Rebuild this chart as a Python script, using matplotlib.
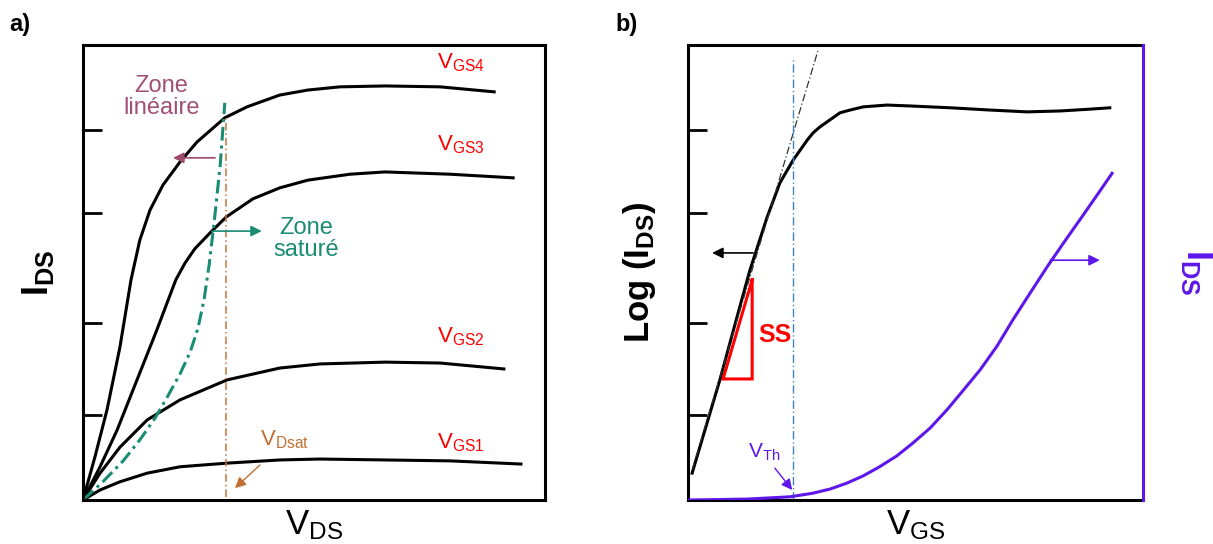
import matplotlib
matplotlib.use('Agg')
import matplotlib.pyplot as plt

plt.rcParams['font.family'] = ['Liberation Sans', 'DejaVu Sans']
plt.rcParams['mathtext.fontset'] = 'custom'
plt.rcParams['mathtext.rm'] = 'Liberation Sans'
plt.rcParams['mathtext.bf'] = 'Liberation Sans:bold'

# ---- panel a) : I_DS vs V_DS (normalised 0-100 units)
vgs4_x = [0, 2.6, 5.2, 8.0, 10.4, 12.3, 14.5, 17.3, 21.0, 24.7, 30.7, 35.5, 42.6, 48.7, 55.6, 65.4, 77.3, 89.0]
vgs4_y = [0, 9.5, 19.8, 33.6, 48.4, 57.1, 63.7, 69.2, 74.3, 78.7, 84.0, 86.4, 89.0, 90.1, 90.8, 91.0, 90.8, 89.7]
vgs3_x = [0, 3.7, 7.4, 11.7, 16.0, 20.1, 22.1, 24.2, 27.5, 31.0, 36.8, 42.6, 48.7, 57.8, 65.4, 79.4, 93.1]
vgs3_y = [0, 7.3, 15.4, 26.4, 37.4, 48.4, 52.1, 55.2, 58.7, 62.2, 66.2, 68.6, 70.3, 71.6, 72.1, 71.6, 70.8]
vgs2_x = [0, 3.7, 8.0, 13.9, 21.0, 31.2, 42.6, 51.3, 65.4, 77.3, 91.1]
vgs2_y = [0, 5.9, 11.6, 17.6, 22.0, 26.4, 29.0, 29.9, 30.3, 30.1, 28.8]
vgs1_x = [0, 3.7, 8.0, 13.9, 21.0, 31.2, 42.6, 51.3, 65.4, 79.4, 94.8]
vgs1_y = [0, 2.2, 4.0, 5.9, 7.3, 8.1, 8.8, 9.0, 8.8, 8.6, 7.9]
sat_x = [0, 4.3, 8.7, 12.3, 15.6, 18.4, 21.0, 23.2, 24.9, 26.2, 27.3, 28.4, 29.7, 30.7]
sat_y = [0, 4.0, 8.6, 13.2, 18.0, 22.9, 27.7, 32.5, 37.8, 44.0, 51.6, 61.1, 73.6, 87.3]
vdsat = 31.0
vdsat_top = 84.2
vgs_labels = ['$\\mathregular{V_{GS4}}$', '$\\mathregular{V_{GS3}}$',
              '$\\mathregular{V_{GS2}}$', '$\\mathregular{V_{GS1}}$']
vgs_label_y = [96.0, 78.0, 35.8, 12.7]
ticks_y = [81.3, 63.1, 38.9, 18.7]

# ---- panel b) : log(I_DS) and I_DS vs V_GS
log_x = [0.9, 7.0, 10.3, 13.6, 17.4, 20.2, 23.1, 26.2, 27.5, 29.0, 33.4, 35.6, 38.5, 43.7,
         48.8, 57.6, 66.4, 74.5, 81.8, 88.4, 92.7]
log_y = [5.9, 26.4, 38.5, 50.5, 62.2, 69.7, 74.7, 79.1, 80.7, 82.0, 85.1, 85.7, 86.4, 86.8,
         86.6, 86.2, 85.7, 85.3, 85.5, 85.9, 86.2]
tan_x = [0.9, 28.6]
tan_y = [6.6, 98.9]
lin_x = [0, 7.0, 13.0, 22.4, 27.5, 31.2, 34.9, 38.5, 42.1, 45.9, 49.4, 53.2, 56.9, 60.4,
         64.2, 67.9, 71.4, 75.2, 78.9, 82.4, 86.2, 89.9, 93.2]
lin_y = [0, 0.1, 0.2, 0.7, 1.5, 2.4, 3.7, 5.3, 7.3, 9.7, 12.5, 15.8, 19.8, 24.0,
         28.6, 33.8, 39.6, 45.5, 51.2, 56.3, 61.7, 67.0, 71.8]
vth = 23.1
vth_top = 97.1
ss_x = [14.1, 14.1, 7.7, 14.1]
ss_y = [48.4, 26.6, 26.6, 48.4]

purple = '#5E17EB'
lw = 2.2


def frame(ax):
  ax.set_xlim(0, 100)
  ax.set_ylim(0, 100)
  for s in ax.spines.values():
    s.set_linewidth(2.2)
  ax.set_xticks([])
  ax.set_yticks(ticks_y)
  ax.set_yticklabels([])
  ax.tick_params(axis='y', direction='in', length=14, width=2)


def arrow(ax, x0, y0, x1, y1, color, lw=1.2):
  ax.annotate('', xy=(x1, y1), xytext=(x0, y0),
              arrowprops=dict(arrowstyle='-|>', color=color, lw=lw,
                              mutation_scale=16, shrinkA=0, shrinkB=0))


def main():
  fig = plt.figure(figsize=(12.13, 5.44), dpi=100)

  # ---------------- a)
  ax = fig.add_axes([0.0684, 0.0809, 0.3809, 0.8364])
  frame(ax)
  for x, y in [(vgs4_x, vgs4_y), (vgs3_x, vgs3_y), (vgs2_x, vgs2_y), (vgs1_x, vgs1_y)]:
    ax.plot(x, y, c='black', lw=lw, solid_joinstyle='round')
  ax.plot(sat_x, sat_y, c='#1B8C74', lw=2.2, ls=(0, (4.5, 1.6, 1, 1.6)))
  ax.plot([vdsat, vdsat], [0.7, vdsat_top], c='#C8743C', lw=1.1, ls=(0, (5, 2, 1, 2)))
  for lab, y in zip(vgs_labels, vgs_label_y):
    ax.text(76.6, y, lab, color='red', fontsize=16, va='center', ha='left')
  ax.text(17.0, 88.5, 'Zone\nlinéaire', color='#A05075', fontsize=17,
          ha='center', va='center', linespacing=1.0)
  arrow(ax, 28.6, 75.2, 19.5, 75.2, '#9E4A6E')
  ax.text(48.3, 57.4, 'Zone\nsaturé', color='#1B8C74', fontsize=17,
          ha='center', va='center', linespacing=1.0)
  arrow(ax, 27.9, 59.1, 38.7, 59.1, '#1B8C74')
  ax.text(38.3, 13.2, '$\\mathregular{V_{Dsat}}$', color='#C07030', fontsize=16,
          ha='left', va='center')
  arrow(ax, 38.3, 7.7, 32.9, 2.6, '#C07030', lw=1.0)
  ax.set_xlabel('$\\mathregular{V_{DS}}$', fontsize=25, labelpad=6)
  ax.set_ylabel('$\\mathregular{I_{DS}}$', fontsize=26, fontweight='bold', labelpad=16)
  fig.text(0.008, 0.955, 'a)', fontsize=17, fontweight='bold', va='center')

  # ---------------- b)
  bx = fig.add_axes([0.5672, 0.0809, 0.3751, 0.8364])
  frame(bx)
  bx.spines['right'].set_visible(False)
  bx.plot(log_x, log_y, c='black', lw=lw, solid_joinstyle='round')
  bx.plot(tan_x, tan_y, c='#333333', lw=0.9, ls=(0, (6, 2, 1, 2)))
  bx.plot([vth, vth], [0, vth_top], c='#3F86BE', lw=1.0, ls=(0, (6, 2, 1, 2)))
  bx.plot(ss_x, ss_y, c='red', lw=2.2, solid_joinstyle='miter')
  bx.text(19.1, 36.3, 'SS', color='red', fontsize=18, fontweight='bold',
          ha='center', va='center')
  arrow(bx, 14.3, 54.3, 5.3, 54.3, 'black')
  bx.set_xlabel('$\\mathregular{V_{GS}}$', fontsize=25, labelpad=6)
  bx.set_ylabel('Log ($\\mathregular{I_{DS}}$)', fontsize=25, fontweight='bold', labelpad=18)
  fig.text(0.507, 0.955, 'b)', fontsize=17, fontweight='bold', va='center')

  tx = bx.twinx()
  tx.set_ylim(0, 100)
  tx.set_yticks([])
  for k in ['left', 'top', 'bottom']:
    tx.spines[k].set_visible(False)
  tx.spines['right'].set_color(purple)
  tx.spines['right'].set_linewidth(2.2)
  tx.plot(lin_x, lin_y, c=purple, lw=lw, solid_joinstyle='round')
  tx.text(13.2, 10.5, '$\\mathregular{V_{Th}}$', color=purple, fontsize=15,
          ha='left', va='center')
  arrow(tx, 19.1, 7.0, 22.9, 2.2, purple, lw=1.0)
  arrow(tx, 79.6, 52.7, 90.5, 52.7, purple)
  tx.set_ylabel('$\\mathregular{I_{DS}}$', fontsize=26, fontweight='bold', color=purple,
                rotation=-90, labelpad=52)

  fig.savefig('out.png', dpi=100)


if __name__ == "__main__":
  main()
